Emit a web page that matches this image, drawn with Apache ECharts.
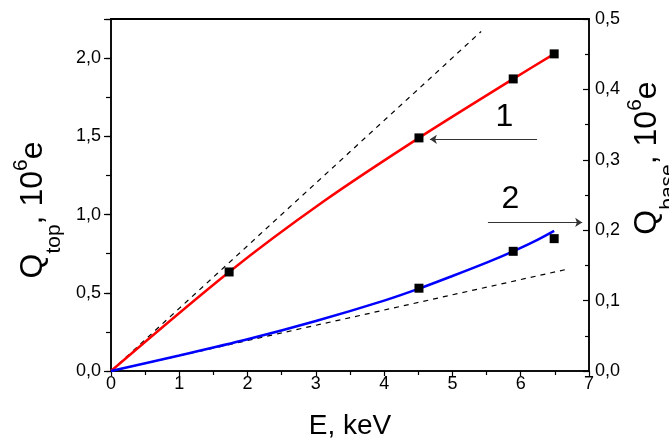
<!DOCTYPE html>
<html><head><meta charset="utf-8">
<script src="https://cdn.jsdelivr.net/npm/echarts@6/dist/echarts.min.js"></script>
<style>html,body{margin:0;padding:0;background:#fff}#c{width:669px;height:445px}</style>
</head><body><div id="c"></div>
<script>
// ---- data ----
const topCurveE = [0, 1.73, 3.1, 4.51, 5.89, 6.49];
const topCurveQ = [0, 0.633, 1.08, 1.49, 1.867, 2.027];
const topPointsE = [1.73, 4.51, 5.89, 6.49];
const topPointsQ = [0.633, 1.49, 1.867, 2.027];
const baseCurveE = [0, 1, 2, 3, 4, 4.51, 5, 5.5, 5.89, 6.2, 6.49];
const baseCurveQ = [0, 0.022, 0.045, 0.071, 0.100, 0.117, 0.135, 0.154, 0.170, 0.184, 0.199];
const basePointsE = [4.51, 5.89, 6.49];
const basePointsQ = [0.1176, 0.170, 0.188];
const topDashE = [0, 5.42];
const topDashQ = [0, 2.17];
const baseDashE = [0, 6.70];
const baseDashQ = [0, 0.145];
const label1Pos = [5.76, 1.62];
const label2Pos = [5.85, 0.244];
const arrow1 = [[6.24, 1.481], [4.67, 1.481]];
const arrow2 = [[5.52, 0.211], [6.90, 0.211]];
const xRange = [0, 7];
const yTopRange = [0, 2.25];
const yBaseRange = [0, 0.5];

const zip = (a, b) => a.map((v, i) => [v, b[i]]);
const FONT = 'Arial, "Liberation Sans", sans-serif';
const comma = v => v.toFixed(1).replace('.', ',');
const axisLineStyle = { color: '#000', width: 1.5 };

const rich = {
  q: { fontSize: 32, lineHeight: 64, verticalAlign: 'middle', fontFamily: FONT, color: '#000' },
  sub: { fontSize: 21, lineHeight: 24, verticalAlign: 'bottom', fontFamily: FONT, color: '#000' },
  sup: { fontSize: 21, verticalAlign: 'top', padding: [10, 0, 0, 0], fontFamily: FONT, color: '#000' }
};

const chart = echarts.init(document.getElementById('c'), null, { renderer: 'canvas' });
chart.setOption({
  animation: false,
  backgroundColor: '#fff',
  textStyle: { fontFamily: FONT },
  grid: { left: 111, right: 80, top: 19, bottom: 66, show: true, borderColor: '#000', borderWidth: 1.5, backgroundColor: 'transparent' },
  xAxis: [{
    type: 'value', min: xRange[0], max: xRange[1], interval: 1, position: 'bottom',
    axisLine: { show: true, onZero: false, lineStyle: axisLineStyle },
    axisTick: { length: 5, lineStyle: { color: '#000', width: 1.2 } },
    minorTick: { show: true, splitNumber: 2, length: 4, lineStyle: { color: '#000', width: 1.2 } },
    axisLabel: { fontSize: 18, color: '#000', margin: 4, fontFamily: FONT },
    splitLine: { show: false },
    name: 'E, keV', nameLocation: 'middle', nameGap: 41,
    nameTextStyle: { fontSize: 28, color: '#000', fontFamily: FONT }
  }, {
    type: 'value', min: xRange[0], max: xRange[1], interval: 1, position: 'top',
    axisLine: { show: true, onZero: false, lineStyle: { color: '#000', width: 2 } },
    axisTick: { show: false }, axisLabel: { show: false }, splitLine: { show: false }
  }],
  yAxis: [{
    type: 'value', min: yTopRange[0], max: yTopRange[1], interval: 0.5, position: 'left',
    axisLine: { show: true, onZero: false, lineStyle: axisLineStyle },
    axisTick: { show: true, length: 7, lineStyle: { color: '#000', width: 1.2 } },
    axisLabel: { fontSize: 18, color: '#000', margin: 10, fontFamily: FONT,
      formatter: v => (Math.abs(v / 0.5 - Math.round(v / 0.5)) < 1e-6 ? comma(v) : '') },
    splitLine: { show: false }
  }, {
    type: 'value', min: yBaseRange[0], max: yBaseRange[1], interval: 0.1, position: 'right',
    axisLine: { show: true, onZero: false, lineStyle: axisLineStyle },
    axisTick: { show: true, inside: true, length: 6, lineStyle: { color: '#000', width: 1.2 } },
    minorTick: { show: true, splitNumber: 2, length: 4, lineStyle: { color: '#000', width: 1.2 } },
    axisLabel: { fontSize: 18, color: '#000', margin: 6, fontFamily: FONT, formatter: v => comma(v) },
    splitLine: { show: false }
  }, {
    type: 'value', min: yTopRange[0], max: yTopRange[1], interval: 0.25, position: 'left',
    axisLine: { show: false, onZero: false },
    axisTick: { show: true, length: 5, lineStyle: { color: '#000', width: 1.2 } },
    axisLabel: { show: false }, splitLine: { show: false }
  }],
  graphic: [{
    type: 'text', x: 33, y: 210, rotation: Math.PI / 2,
    style: { text: '{q|Q}{sub|top}{q|, 10}{sup|6}{q|e}', rich: rich, align: 'center', verticalAlign: 'middle' }
  }, {
    type: 'text', x: 647, y: 158, rotation: Math.PI / 2,
    style: { text: '{q|Q}{sub|base}{q|, 10}{sup|6}{q|e}', rich: rich, align: 'center', verticalAlign: 'middle' }
  }],
  series: [{
    type: 'line', data: zip(topDashE, topDashQ), xAxisIndex: 1, yAxisIndex: 0, clip: false,
    showSymbol: false, lineStyle: { color: '#000', width: 1.2, type: [5, 5] }, z: 1,
    markLine: { silent: true, symbol: ['none', 'none'], label: { show: false },
      lineStyle: { color: '#000', width: 1.5, type: 'solid' },
      data: [{ yAxis: yTopRange[1] }] }
  }, {
    type: 'line', data: zip(baseDashE, baseDashQ), xAxisIndex: 0, yAxisIndex: 1,
    showSymbol: false, lineStyle: { color: '#000', width: 1.2, type: [5, 5] }, z: 1
  }, {
    type: 'line', data: zip(topCurveE, topCurveQ), xAxisIndex: 0, yAxisIndex: 0,
    smooth: 0.3, showSymbol: false, lineStyle: { color: '#ff0000', width: 2.5 }, z: 2
  }, {
    type: 'line', data: zip(baseCurveE, baseCurveQ), xAxisIndex: 0, yAxisIndex: 1,
    smooth: 0.3, showSymbol: false, lineStyle: { color: '#0000ff', width: 2.5 }, z: 2
  }, {
    type: 'scatter', data: zip(topPointsE, topPointsQ), xAxisIndex: 0, yAxisIndex: 0,
    symbol: 'rect', symbolSize: 9, itemStyle: { color: '#000', opacity: 1 }, z: 3
  }, {
    type: 'scatter', data: zip(basePointsE, basePointsQ), xAxisIndex: 0, yAxisIndex: 1,
    symbol: 'rect', symbolSize: 9, itemStyle: { color: '#000', opacity: 1 }, z: 3
  }, {
    type: 'scatter', data: [label1Pos], xAxisIndex: 0, yAxisIndex: 0, symbolSize: 0, silent: true,
    itemStyle: { opacity: 1 },
    label: { show: true, position: 'inside', formatter: '1', fontSize: 32, color: '#000', opacity: 1, fontFamily: FONT },
    markLine: { silent: true, symbol: ['none', 'arrow'], symbolSize: 7, label: { show: false },
      lineStyle: { color: '#333', width: 1, type: 'solid' },
      data: [[{ coord: arrow1[0] }, { coord: arrow1[1] }]] }
  }, {
    type: 'scatter', data: [label2Pos], xAxisIndex: 0, yAxisIndex: 1, symbolSize: 0, silent: true,
    itemStyle: { opacity: 1 },
    label: { show: true, position: 'inside', formatter: '2', fontSize: 32, color: '#000', opacity: 1, fontFamily: FONT },
    markLine: { silent: true, symbol: ['none', 'arrow'], symbolSize: 7, label: { show: false },
      lineStyle: { color: '#333', width: 1, type: 'solid' },
      data: [[{ coord: arrow2[0] }, { coord: arrow2[1] }]] }
  }]
});
</script>
</body></html>
